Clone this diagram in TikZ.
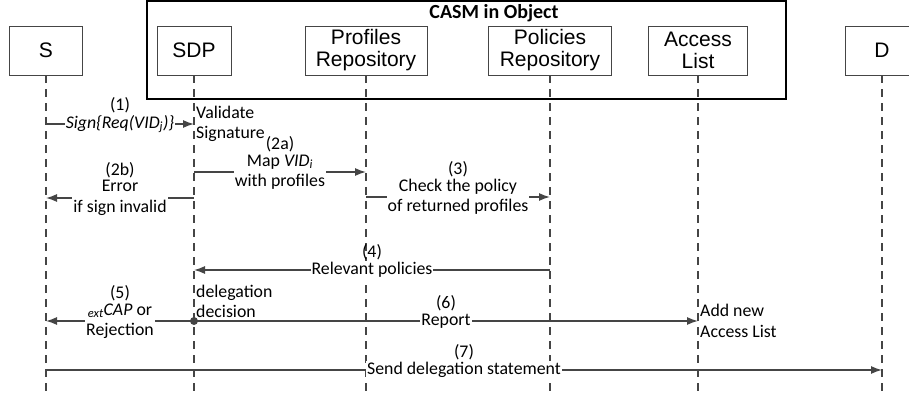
\documentclass[tikz,border=0pt]{standalone}
\usepackage{fontspec}
\setmainfont{Carlito}
\newfontfamily\boxfont{Liberation Sans}
\usetikzlibrary{arrows.meta}
\usetikzlibrary{positioning}
\definecolor{linegray}{HTML}{454545}
\tikzset{entity/.style = {draw=linegray, line width=0.9pt, minimum height=49pt,
                          align=center, inner sep=0pt,
                          font=\boxfont\fontsize{21}{22}\selectfont},
         lifeline/.style = {draw=linegray, line width=1.1pt, dash pattern=on 8pt off 6pt},
         msg/.style = {draw=linegray, line width=1.4pt, -{Latex[length=11pt,width=8pt]}},
         msgtext/.style = {fill=white, inner sep=1pt, align=center},
         stepno/.style = {inner sep=0.5pt},
         note/.style = {align=left, inner sep=1pt}}

\begin{document}
\begin{tikzpicture}[x=1pt, y=-1pt, font=\fontsize{17.8}{20.5}\selectfont]
      \useasboundingbox (0,0) rectangle (909,398);
      % object frame
      \draw [line width=1.2pt] (147,1) rectangle (786,99);
      \node [font=\bfseries\fontsize{20}{22}\selectfont] (casm) at (494,13) {CASM in Object};
      % participants
      \node [entity, minimum width=73pt] (s) at (46,50.5) {S};
      \node [entity, minimum width=74pt] (sdp) at (194,50.5) {SDP};
      \node [entity, minimum width=122pt] (prof) at (366,50.5) {Profiles\\Repository};
      \node [entity, minimum width=123pt] (pol) at (550,50.5) {Policies\\Repository};
      \node [entity, minimum width=99pt] (acl) at (698,50.5) {Access\\List};
      \node [entity, minimum width=74pt] (d) at (882,50.5) {D};
      \coordinate (bottom) at (0,396);
      \foreach \p in {s, sdp, prof, pol, acl, d}
        \draw [lifeline] (\p.south) -- (\p.south |- bottom);
      % message levels
      \coordinate (m1) at (0,124);
      \coordinate (m2a) at (0,172);
      \coordinate (m2b) at (0,198);
      \coordinate (m3) at (0,197);
      \coordinate (m4) at (0,270);
      \coordinate (m5) at (0,321);
      \coordinate (m7) at (0,370);
      % messages
      \draw [msg] (s |- m1) -- (sdp |- m1)
        node [msgtext, midway] (l1) {\textit{Sign\{Req(VID\textsubscript{j})\}}};
      \node [stepno, above=0pt of l1] {(1)};
      \draw [msg] (sdp |- m2a) -- (prof |- m2a)
        node [msgtext, midway] (l2a) {Map \textit{VID\textsubscript{i}}\\with profiles};
      \node [stepno, above=0pt of l2a] {(2a)};
      \draw [msg] (sdp |- m2b) -- (s |- m2b)
        node [msgtext, midway] (l2b) {Error\\if sign invalid};
      \node [stepno, above=0pt of l2b] {(2b)};
      \draw [msg] (prof |- m3) -- (pol |- m3)
        node [msgtext, midway] (l3) {Check the policy\\of returned profiles};
      \node [stepno, above=0pt of l3] {(3)};
      \draw [msg] (pol |- m4) -- (sdp |- m4)
        node [msgtext, midway] (l4) {Relevant policies};
      \node [stepno, above=0pt of l4] {(4)};
      \draw [msg] (sdp |- m5) -- (s |- m5)
        node [msgtext, midway] (l5) {\textsubscript{\textit{ext}}\textit{CAP} or\\Rejection};
      \node [stepno, above=0pt of l5] {(5)};
      \draw [msg] (sdp |- m5) -- (acl |- m5)
        node [msgtext, midway] (l6) {Report};
      \node [stepno, above=0pt of l6] {(6)};
      \fill [linegray] (sdp |- m5) circle (4pt);
      \draw [msg] (s |- m7) -- (d |- m7)
        node [msgtext, midway] (l7) {Send delegation statement};
      \node [stepno, above=0pt of l7] {(7)};
      % notes on the lifelines
      \node [note, anchor=west] (validate) at ([xshift=1pt]sdp |- m1) {Validate\\Signature};
      \node [note, anchor=south west] (decide) at ([xshift=1pt,yshift=2pt]sdp |- m5) {delegation\\decision};
      \node [note, anchor=west] (addlist) at ([xshift=1pt]acl |- m5) {Add new\\Access List};
\end{tikzpicture}
\end{document}
